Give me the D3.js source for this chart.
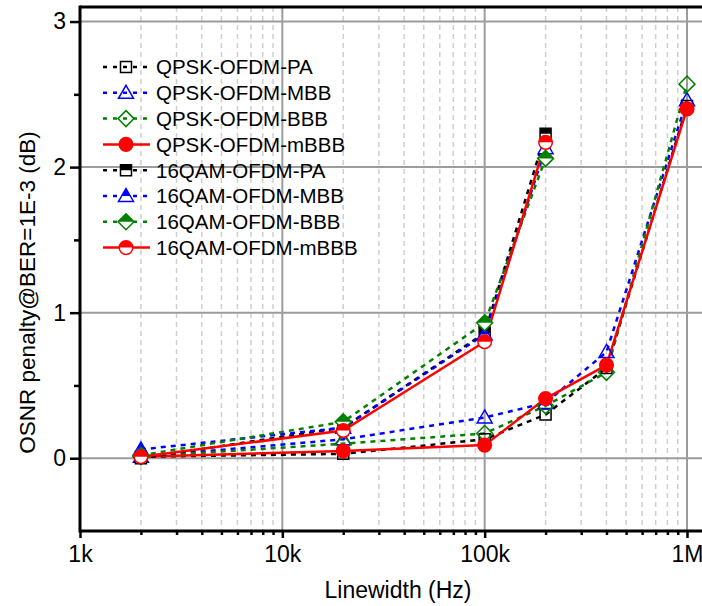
<!DOCTYPE html>
<html>
<head>
<meta charset="utf-8">
<script src="https://cdn.jsdelivr.net/npm/d3@7/dist/d3.min.js"></script>
<style>
  html, body { margin: 0; padding: 0; background: #fff; }
  svg { display: block; font-family: "Liberation Sans", Arial, sans-serif; }
</style>
</head>
<body>
<svg id="chart" width="702" height="606"></svg>
<script>
// Linewidth values (Hz) for each modulation format
const qpskLinewidth = [2e3, 2e4, 1e5, 2e5, 4e5, 1e6];
const qamLinewidth = [2e3, 2e4, 1e5, 2e5];

// OSNR penalty (dB) at BER = 1E-3
const qpskPA   = [0.01, 0.03, 0.13, 0.30, 0.62, 2.42];
const qpskMBB  = [0.01, 0.13, 0.28, 0.38, 0.73, 2.46];
const qpskBBB  = [0.01, 0.10, 0.17, 0.36, 0.59, 2.57];
const qpskmBBB = [0.01, 0.05, 0.09, 0.41, 0.64, 2.40];
const qamPA    = [0.00, 0.21, 0.86, 2.23];
const qamMBB   = [0.06, 0.21, 0.85, 2.13];
const qamBBB   = [0.02, 0.25, 0.93, 2.06];
const qammBBB  = [0.01, 0.19, 0.80, 2.17];

const seriesNames = [
  "QPSK-OFDM-PA", "QPSK-OFDM-MBB", "QPSK-OFDM-BBB", "QPSK-OFDM-mBBB",
  "16QAM-OFDM-PA", "16QAM-OFDM-MBB", "16QAM-OFDM-BBB", "16QAM-OFDM-mBBB"
];
const xTickLabels = ["1k", "10k", "100k", "1M"];
const yTickLabels = ["0", "1", "2", "3"];

const series = [
  { name: seriesNames[0], x: qpskLinewidth, y: qpskPA,   color: "#000000", shape: "square",   fill: "none", dashed: true },
  { name: seriesNames[1], x: qpskLinewidth, y: qpskMBB,  color: "#0000ff", shape: "triangle", fill: "none", dashed: true },
  { name: seriesNames[2], x: qpskLinewidth, y: qpskBBB,  color: "#008000", shape: "diamond",  fill: "none", dashed: true },
  { name: seriesNames[3], x: qpskLinewidth, y: qpskmBBB, color: "#ff0000", shape: "circle",   fill: "full", dashed: false },
  { name: seriesNames[4], x: qamLinewidth,  y: qamPA,    color: "#000000", shape: "square",   fill: "half", dashed: true },
  { name: seriesNames[5], x: qamLinewidth,  y: qamMBB,   color: "#0000ff", shape: "triangle", fill: "half", dashed: true },
  { name: seriesNames[6], x: qamLinewidth,  y: qamBBB,   color: "#008000", shape: "diamond",  fill: "half", dashed: true },
  { name: seriesNames[7], x: qamLinewidth,  y: qammBBB,  color: "#ff0000", shape: "circle",   fill: "half", dashed: false }
];

const svg = d3.select("#chart");
const pLeft = 80, pTop = 7, pBottom = 531, pRight = 712;

const x = d3.scaleLog().domain([1e3, 1e6]).range([pLeft, 687]);
const y = d3.scaleLinear().domain([-0.5, 3.1]).range([pBottom, pTop]);

// Grid: minor dashed verticals, major solid verticals and horizontals
const minorX = [];
for (let d = 1e3; d < 1e7; d *= 10) for (let k = 2; k <= 9; k++) minorX.push(d * k);
const grid = svg.append("g");
grid.selectAll("line.minor").data(minorX.filter(v => x(v) < pRight)).join("line")
  .attr("x1", d => x(d)).attr("x2", d => x(d)).attr("y1", pTop).attr("y2", pBottom)
  .attr("stroke", "#cfcfcf").attr("stroke-width", 1.5).attr("stroke-dasharray", "5,4");
grid.selectAll("line.majx").data([1e4, 1e5, 1e6]).join("line")
  .attr("x1", d => x(d)).attr("x2", d => x(d)).attr("y1", pTop).attr("y2", pBottom)
  .attr("stroke", "#9c9c9c").attr("stroke-width", 2);
grid.selectAll("line.majy").data([0, 1, 2, 3]).join("line")
  .attr("x1", pLeft).attr("x2", pRight).attr("y1", d => y(d)).attr("y2", d => y(d))
  .attr("stroke", "#9c9c9c").attr("stroke-width", 2);

// Axes
const xAxis = svg.append("g").attr("transform", `translate(0,${pBottom})`)
  .call(d3.axisBottom(x).tickValues([1e3, 1e4, 1e5, 1e6])
    .tickFormat((d, i) => xTickLabels[i]).tickSize(7).tickPadding(8));
const xMinor = svg.append("g").attr("transform", `translate(0,${pBottom})`)
  .call(d3.axisBottom(x).tickValues(minorX.filter(v => x(v) < 700)).tickFormat("").tickSize(4));
const yAxis = svg.append("g").attr("transform", `translate(${pLeft},0)`)
  .call(d3.axisLeft(y).tickValues([0, 1, 2, 3])
    .tickFormat((d, i) => yTickLabels[i]).tickSize(10).tickPadding(4));
const yMinor = svg.append("g").attr("transform", `translate(${pLeft},0)`)
  .call(d3.axisLeft(y).tickValues([0.5, 1.5, 2.5]).tickFormat("").tickSize(6));

[xAxis, xMinor, yAxis, yMinor].forEach(g => {
  g.select(".domain").remove();
  g.selectAll(".tick line").attr("stroke", "#000").attr("stroke-width", 2.5);
  g.selectAll(".tick text").attr("fill", "#000").style("font-size", "23px")
    .style("font-family", "'Liberation Sans', Arial, sans-serif");
});

// Frame lines
svg.append("line").attr("x1", pLeft).attr("x2", 702).attr("y1", pBottom).attr("y2", pBottom)
  .attr("stroke", "#000").attr("stroke-width", 3);
svg.append("line").attr("x1", pLeft).attr("x2", 702).attr("y1", pTop).attr("y2", pTop)
  .attr("stroke", "#000").attr("stroke-width", 3);
svg.append("line").attr("x1", pLeft).attr("x2", pLeft).attr("y1", pTop - 1.5).attr("y2", pBottom + 1.5)
  .attr("stroke", "#000").attr("stroke-width", 3);

// Axis titles
svg.append("text").attr("x", 398).attr("y", 598).attr("text-anchor", "middle")
  .style("font-size", "23px").text("Linewidth (Hz)");
svg.append("text").attr("transform", `translate(35,${(458 + 127) / 2}) rotate(-90)`)
  .attr("text-anchor", "middle").style("font-size", "22.5px")
  .text("OSNR penalty@BER=1E-3 (dB)");

// Marker drawing
function shapePath(shape) {
  if (shape === "square") return "M-5.5,-5.5H5.5V5.5H-5.5Z";
  if (shape === "triangle") return "M0,-7.5L7.5,5.5H-7.5Z";
  if (shape === "diamond") return "M0,-8L8,0L0,8L-8,0Z";
  return "M-6.8,0A6.8,6.8 0 1,1 6.8,0A6.8,6.8 0 1,1 -6.8,0Z";
}
const defs = svg.append("defs");
defs.append("clipPath").attr("id", "upperHalf")
  .append("rect").attr("x", -12).attr("y", -12).attr("width", 24).attr("height", 12);
defs.append("clipPath").attr("id", "plotArea")
  .append("rect").attr("x", pLeft).attr("y", pTop).attr("width", pRight - pLeft).attr("height", pBottom - pTop);

function drawMarker(g, s) {
  const p = shapePath(s.shape);
  if (s.fill === "half") {
    g.append("path").attr("d", p).attr("fill", "#fff");
    g.append("path").attr("d", p).attr("fill", s.color).attr("clip-path", "url(#upperHalf)");
  }
  g.append("path").attr("d", p)
    .attr("fill", s.fill === "full" ? s.color : "none")
    .attr("stroke", s.color).attr("stroke-width", 1.5);
}

const plot = svg.append("g").attr("clip-path", "url(#plotArea)");
const line = d3.line().x(d => x(d[0])).y(d => y(d[1]));
series.forEach(s => {
  const pts = s.x.map((v, i) => [v, s.y[i]]);
  plot.append("path").datum(pts).attr("d", line).attr("fill", "none")
    .attr("stroke", s.color).attr("stroke-width", 2.5)
    .attr("stroke-dasharray", s.dashed ? "5,5" : null);
});
series.forEach(s => {
  s.x.forEach((v, i) => {
    const g = plot.append("g").attr("transform", `translate(${x(v)},${y(s.y[i])})`);
    drawMarker(g, s);
  });
});

// Legend
const legend = svg.append("g");
series.forEach((s, i) => {
  const cy = 67 + i * 25.8;
  legend.append("line").attr("x1", 103).attr("x2", 150).attr("y1", cy).attr("y2", cy)
    .attr("stroke", s.color).attr("stroke-width", 2.5)
    .attr("stroke-dasharray", s.dashed ? "4,6" : null);
  const g = legend.append("g").attr("transform", `translate(126,${cy})`);
  drawMarker(g, s);
  legend.append("text").attr("x", 156).attr("y", cy).attr("dy", "0.36em")
    .style("font-size", "20.5px").text(s.name);
});
</script>
</body>
</html>
